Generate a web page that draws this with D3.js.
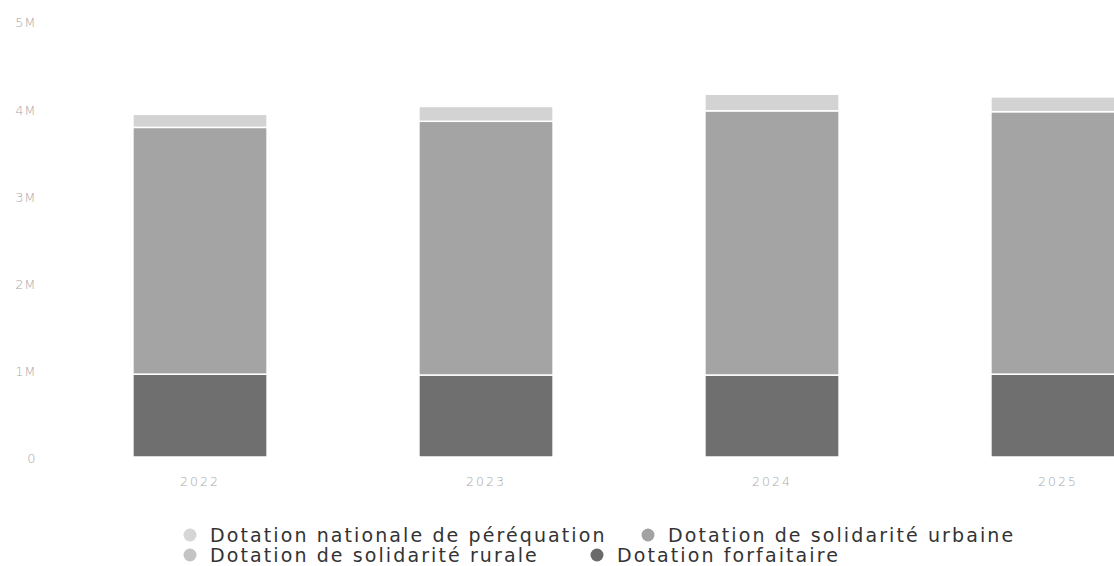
<!DOCTYPE html>
<html>
<head>
<meta charset="utf-8">
<script src="https://cdn.jsdelivr.net/npm/d3@7"></script>
<style>
  html, body { margin: 0; padding: 0; background: #fff; }
  svg { display: block; }
</style>
</head>
<body>
<svg id="chart" width="1114" height="566"></svg>
<script>
// Years on the x axis
const years = ["2022", "2023", "2024", "2025"];

// Series, stacked from the bottom up (values in euros)
const forfaitaire = [950000, 940000, 940000, 950000];
const solidariteUrbaine = [2830000, 2910000, 3030000, 3010000];
const solidariteRurale = [0, 0, 0, 0];
const perequation = [150000, 170000, 190000, 170000];

// Y axis ticks
const yTicks = [0, 1000000, 2000000, 3000000, 4000000, 5000000];
const yTickLabels = ["0", "1M", "2M", "3M", "4M", "5M"];

// Legend entries, in reading order
const legendNames = [
  "Dotation nationale de péréquation",
  "Dotation de solidarité urbaine",
  "Dotation de solidarité rurale",
  "Dotation forfaitaire"
];

const series = [
  { key: "Dotation forfaitaire", values: forfaitaire, color: "#6f6f6f" },
  { key: "Dotation de solidarité urbaine", values: solidariteUrbaine, color: "#a4a4a4" },
  { key: "Dotation de solidarité rurale", values: solidariteRurale, color: "#c3c3c3" },
  { key: "Dotation nationale de péréquation", values: perequation, color: "#d3d3d3" }
];
const colorOf = new Map(series.map(s => [s.key, s.color]));
const legendColor = new Map([
  ["Dotation nationale de péréquation", "#d6d6d6"],
  ["Dotation de solidarité urbaine", "#a2a2a2"],
  ["Dotation de solidarité rurale", "#c4c4c4"],
  ["Dotation forfaitaire", "#6a6a6a"]
]);

const svg = d3.select("#chart");

const x = d3.scaleBand()
  .domain(years)
  .range([57, 1201])
  .paddingInner(0.531)
  .paddingOuter(0.2655);

const y = d3.scaleLinear()
  .domain([0, 5000000])
  .range([457, 21]);

// Build the stack
const rows = years.map((yr, i) => {
  const r = { year: yr };
  series.forEach(s => { r[s.key] = s.values[i]; });
  return r;
});
const stack = d3.stack().keys(series.map(s => s.key));
const layers = stack(rows);

const axisFont = "'DejaVu Sans', sans-serif";

// Y axis labels
const yAxis = d3.axisLeft(y)
  .tickValues(yTicks)
  .tickFormat((d, i) => yTickLabels[i])
  .tickSize(0)
  .tickPadding(0);
const yg = svg.append("g")
  .attr("transform", "translate(36,0)")
  .call(yAxis);
yg.select(".domain").remove();
yg.selectAll("text")
  .attr("fill", "#a8a8a8")
  .attr("font-family", axisFont)
  .attr("font-weight", 200)
  .attr("font-size", 13)
  .attr("letter-spacing", 0.6)
  .attr("dy", "0.45em");

// Bars
svg.append("g")
  .selectAll("g")
  .data(layers)
  .join("g")
  .attr("fill", d => colorOf.get(d.key))
  .selectAll("rect")
  .data(d => d)
  .join("rect")
  .attr("x", d => x(d.data.year))
  .attr("width", x.bandwidth())
  .attr("y", d => y(d[1]))
  .attr("height", d => Math.max(0, y(d[0]) - y(d[1])))
  .attr("stroke", "#fff")
  .attr("stroke-width", d => (d[1] - d[0]) > 0 ? 1.5 : 0);

// X axis labels
const xAxis = d3.axisBottom(x).tickSize(0).tickPadding(0);
const xg = svg.append("g")
  .attr("transform", "translate(0,482)")
  .call(xAxis);
xg.select(".domain").remove();
xg.selectAll("text")
  .attr("fill", "#a8a8a8")
  .attr("font-family", axisFont)
  .attr("font-weight", 200)
  .attr("font-size", 12.5)
  .attr("letter-spacing", 2)
  .attr("dy", "0.35em");

// Legend: two rows
const legendPos = [
  { x: 190, y: 535 },
  { x: 648, y: 535 },
  { x: 190, y: 555 },
  { x: 597, y: 555 }
];
const lg = svg.append("g")
  .selectAll("g")
  .data(legendNames)
  .join("g")
  .attr("transform", (d, i) => `translate(${legendPos[i].x},${legendPos[i].y})`);
lg.append("circle")
  .attr("r", 6.5)
  .attr("fill", d => legendColor.get(d));
lg.append("text")
  .attr("x", 20)
  .attr("dy", "0.35em")
  .attr("fill", "#333")
  .attr("font-family", axisFont)
  .attr("font-size", 19)
  .attr("letter-spacing", 2.1)
  .text(d => d);
</script>
</body>
</html>
